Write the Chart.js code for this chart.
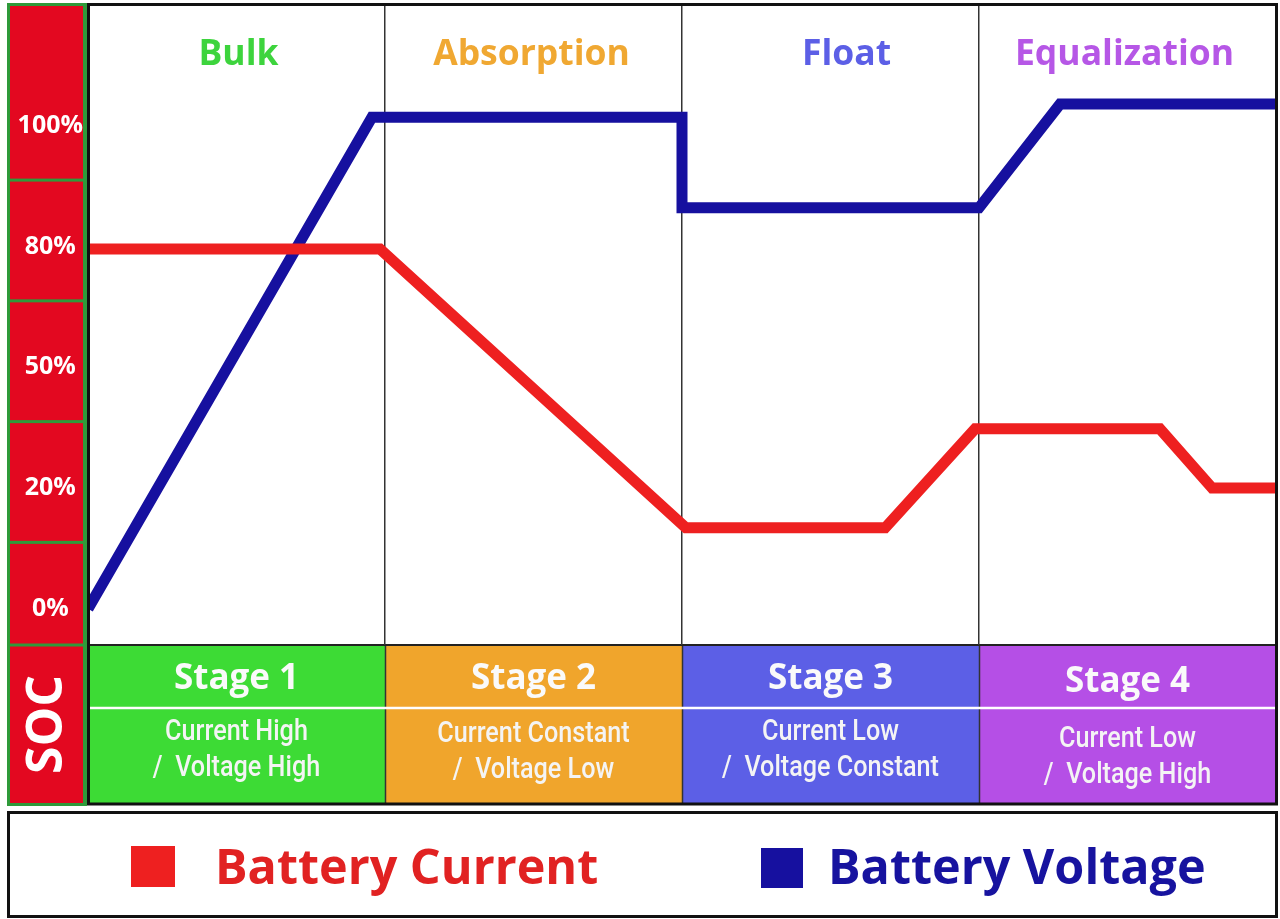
<!DOCTYPE html>
<html><head><meta charset="utf-8">
<script src="https://cdn.jsdelivr.net/npm/chart.js@4"></script>
<style>
html,body{margin:0;padding:0;background:#fff;}
#wrap{position:relative;width:1280px;height:919px;overflow:hidden;}
#c{position:absolute;left:0;top:0;}
#legendBox{position:absolute;left:7px;top:811px;width:1271px;height:107px;border:3px solid #111;box-sizing:border-box;}
.lg-box{position:absolute;}
.lg-text{position:absolute;font-family:'Open Sans',sans-serif;font-weight:700;font-size:48.5px;line-height:60px;white-space:nowrap;}
</style>
</head><body>
<div id="wrap">
<canvas id="c" width="1280" height="919"></canvas>
<div id="legendBox"></div>
</div>
<script>
// ---- data ----
const stageNames = ['Bulk', 'Absorption', 'Float', 'Equalization'];
const stageTitles = ['Stage 1', 'Stage 2', 'Stage 3', 'Stage 4'];
const stageLine1 = ['Current High', 'Current Constant', 'Current Low', 'Current Low'];
const stageLine2 = ['/  Voltage High', '/  Voltage Low', '/  Voltage Constant', '/  Voltage High'];
const yTickLabels = ['0%', '20%', '50%', '80%', '100%'];   // tick index 0..4
const seriesNames = ['Battery Current', 'Battery Voltage'];
// x in stage units (0..4), y in SOC tick-index units (0 = 0%, 4 = 100%)
const currentX = [0, 0.983, 2.013, 2.684, 2.987, 3.609, 3.785, 4];
const currentY = [2.98, 2.98, 0.67, 0.67, 1.49, 1.49, 1.0, 1.0];
const voltageX = [0, 0.956, 2.0, 2.0, 3.0, 3.273, 4];
const voltageY = [0, 4.07, 4.07, 3.32, 3.32, 4.18, 4.18];

// ---- styles ----
const stageFill = ['#3ddb35', '#f0a52c', '#5c5fe6', '#b54fe6'];
const stageHeadColor = ['#3dd43d', '#f0a832', '#5c5fe6', '#b657e6'];
const headShift = [2, -2, 16, -3];
const subShift = [0, 2, 0, 7];
const titleShift = [0, 0, 0, 3];
const currentColor = '#ee2020';
const voltageColor = '#16109f';
const legendTextColors = ['#e12222', '#17139f'];
const socRed = '#e30820';
const socGreen = '#2f9a3a';

const toPts = (xs, ys) => xs.map((x, i) => ({x: x, y: ys[i]}));

const decor = {
  id: 'decor',
  beforeDraw(chart) {
    const ctx = chart.ctx, ca = chart.chartArea, xs = chart.scales.x, ys = chart.scales.y;
    const boxBottom = 804;
    ctx.save();
    // left SOC column
    const cx0 = 7, cx1 = 87;
    ctx.fillStyle = socGreen;
    ctx.fillRect(cx0, 3, cx1 - cx0, boxBottom + 2 - 3);
    const bounds = [3, ys.getPixelForValue(3.55), ys.getPixelForValue(2.55), ys.getPixelForValue(1.55), ys.getPixelForValue(0.55), ca.bottom, boxBottom + 2];
    ctx.fillStyle = socRed;
    for (let i = 0; i < bounds.length - 1; i++) {
      const t = bounds[i] + (i === 0 ? 3 : 1.5), b = bounds[i + 1] - (i === bounds.length - 2 ? 3 : 1.5);
      ctx.fillRect(cx0 + 3, t, cx1 - cx0 - 7, b - t);
    }
    // SOC label
    ctx.save();
    ctx.translate((cx0 + cx1) / 2 - 1, (ca.bottom + boxBottom) / 2);
    ctx.rotate(-Math.PI / 2);
    ctx.fillStyle = '#fff';
    ctx.font = "700 50px 'Open Sans'";
    ctx.textAlign = 'center';
    ctx.textBaseline = 'middle';
    ctx.fillText('SOC', 0, 2);
    ctx.restore();

    // stage boxes
    for (let i = 0; i < 4; i++) {
      const l = xs.getPixelForValue(i), r = xs.getPixelForValue(i + 1);
      ctx.fillStyle = stageFill[i];
      ctx.fillRect(l, ca.bottom, r - l, boxBottom - ca.bottom);
    }
    // separators in stage boxes
    ctx.strokeStyle = '#333';
    ctx.lineWidth = 1.5;
    for (let i = 1; i < 4; i++) {
      const x = Math.round(xs.getPixelForValue(i)) + 0.5;
      ctx.beginPath(); ctx.moveTo(x, ca.bottom); ctx.lineTo(x, boxBottom); ctx.stroke();
    }
    // white divider
    ctx.strokeStyle = '#fff';
    ctx.lineWidth = 2.5;
    ctx.beginPath(); ctx.moveTo(ca.left, 708); ctx.lineTo(ca.right, 708); ctx.stroke();
    // dark line on top of stage boxes
    ctx.strokeStyle = '#222';
    ctx.lineWidth = 2;
    ctx.beginPath(); ctx.moveTo(ca.left, ca.bottom); ctx.lineTo(ca.right, ca.bottom); ctx.stroke();

    // stage texts
    ctx.textAlign = 'center';
    ctx.textBaseline = 'middle';
    for (let i = 0; i < 4; i++) {
      const mx = (xs.getPixelForValue(i) + xs.getPixelForValue(i + 1)) / 2;
      ctx.fillStyle = '#fafafa';
      ctx.font = "700 35px 'Open Sans'";
      ctx.fillText(stageTitles[i], mx, 679 + titleShift[i]);
      ctx.save();
      ctx.translate(mx, 0);
      ctx.scale(0.84, 1);
      ctx.font = "500 30px Roboto";
      ctx.fillStyle = '#f4f4f4';
      ctx.fillText(stageLine1[i], 0, 732 + subShift[i]);
      ctx.fillText(stageLine2[i], 0, 768 + subShift[i]);
      ctx.restore();
      // header
      ctx.fillStyle = stageHeadColor[i];
      ctx.font = "700 35.5px 'Open Sans'";
      ctx.fillText(stageNames[i], mx + headShift[i], 55);
    }
    ctx.restore();
  },
  afterDraw(chart) {
    const ctx = chart.ctx, ca = chart.chartArea;
    ctx.save();
    ctx.strokeStyle = '#111';
    ctx.lineWidth = 3;
    ctx.strokeRect(ca.left + 0.5, 4.5, ca.right - ca.left, 804 - 4.5);
    ctx.restore();
  }
};

const chart = new Chart(document.getElementById('c'), {
  type: 'line',
  data: {
    datasets: [
      {label: seriesNames[0], data: toPts(currentX, currentY), borderColor: currentColor, backgroundColor: currentColor,
       borderWidth: 11, pointRadius: 0, tension: 0, borderJoinStyle: 'miter', borderCapStyle: 'butt', fill: false},
      {label: seriesNames[1], data: toPts(voltageX, voltageY), borderColor: voltageColor, backgroundColor: voltageColor,
       borderWidth: 11, pointRadius: 0, tension: 0, borderJoinStyle: 'miter', borderCapStyle: 'butt', fill: false}
    ]
  },
  options: {
    responsive: false,
    animation: false,
    events: [],
    layout: {padding: {left: 8, top: 5, right: 4, bottom: 274}},
    plugins: {legend: {display: false}, tooltip: {enabled: false}},
    scales: {
      x: {
        type: 'linear', min: 0, max: 4,
        ticks: {display: false, stepSize: 1},
        grid: {color: '#333', lineWidth: 1.5, drawTicks: false},
        border: {display: false},
        afterFit: (s) => { s.height = 0; s.paddingLeft = 0; s.paddingRight = 0; }
      },
      y: {
        type: 'linear', min: -0.3, max: 5.0,
        afterBuildTicks: (s) => { s.ticks = yTickLabels.map((_, i) => ({value: i})); },
        afterFit: (s) => { s.width = 80; s.paddingTop = 0; s.paddingBottom = 0; },
        ticks: {
          color: '#fff', padding: 5, crossAlign: 'center',
          font: {family: 'Open Sans', weight: '700', size: 25},
          callback: (v) => yTickLabels[v]
        },
        grid: {display: false, drawTicks: false},
        border: {display: false}
      }
    }
  },
  plugins: [decor]
});

// HTML legend built from the datasets
const legendPos = [{box: 131, bw: 44, bt: 846, bh: 41, text: 215}, {box: 761, bw: 42, bt: 848, bh: 40, text: 828}];
const wrap = document.getElementById('wrap');
chart.data.datasets.forEach((ds, i) => {
  const p = legendPos[i];
  const b = document.createElement('div');
  b.className = 'lg-box';
  Object.assign(b.style, {left: p.box + 'px', top: p.bt + 'px', width: p.bw + 'px', height: p.bh + 'px', background: ds.borderColor});
  wrap.appendChild(b);
  const t = document.createElement('div');
  t.className = 'lg-text';
  t.textContent = ds.label;
  Object.assign(t.style, {left: p.text + 'px', top: '835px', color: legendTextColors[i]});
  wrap.appendChild(t);
});
</script>
</body></html>
